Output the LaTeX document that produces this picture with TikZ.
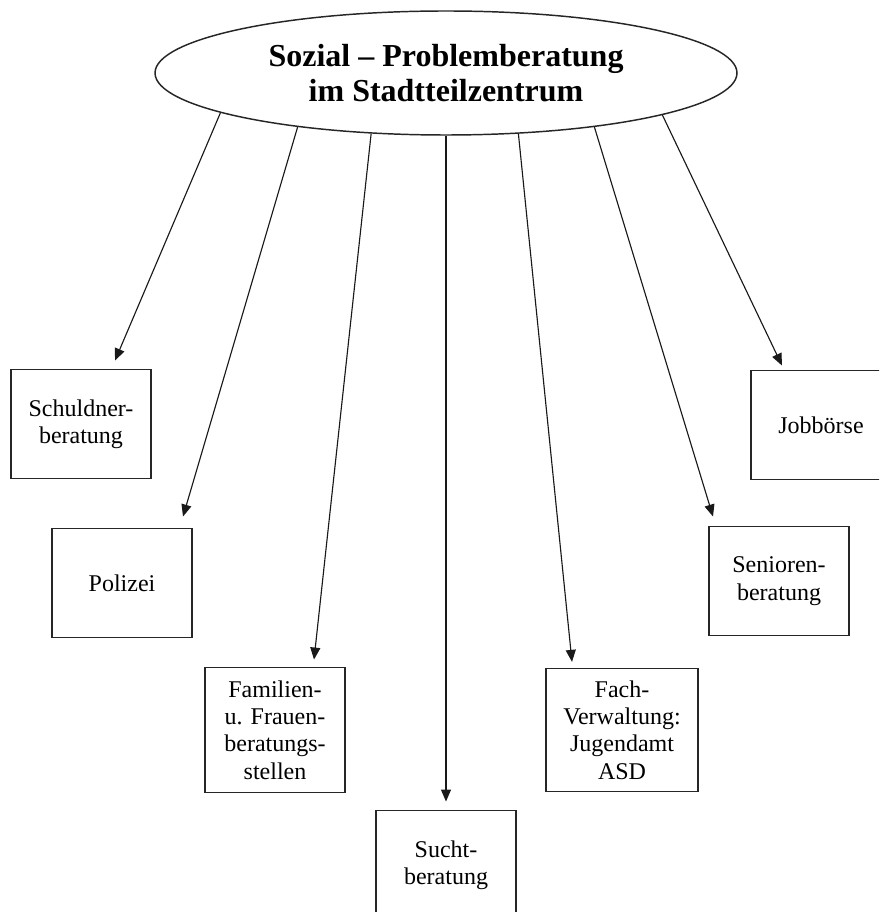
\documentclass[tikz,border=0pt]{standalone}
\usepackage{fontspec}
\setmainfont{Liberation Serif}
\usetikzlibrary{arrows.meta, shapes.geometric, calc}

\begin{document}
\begin{tikzpicture}[x=0.75pt,y=-0.75pt,>={Triangle[length=9pt,width=7.5pt]}]
    \tikzstyle{zentrum}=[ellipse,draw=black!85,line width=1.1pt,minimum width=436.5pt,minimum height=93pt,inner sep=0pt,align=center,font=\bfseries\fontsize{24}{26.5}\selectfont]
    \tikzstyle{stelle}=[rectangle,draw=black!85,line width=1.2pt,minimum width=105pt,minimum height=82pt,inner sep=2pt,align=center,font=\fontsize{18}{20.5}\selectfont]
    \tikzstyle{pfeil}=[->,draw=black!90,line width=0.85pt]

    \clip (0,0) rectangle (879,912);

    \node[zentrum] (Z) at (446,73) {Sozial -- Problemberatung\\im Stadtteilzentrum};

    \node[stelle] (B-1) at (81,424) {Schuldner-\\beratung};
    \node[stelle] (B-2) at (122,583) {Polizei};
    \node[stelle, minimum height=94pt] (B-3) at (275,730) {Familien-\\u. Frauen-\\beratungs-\\stellen};
    \node[stelle] (B-4) at (446,865) {Sucht-\\beratung};
    \node[stelle, minimum width=114pt, minimum height=92pt] (B-5) at (622,730) {Fach-\\Verwaltung:\\Jugendamt\\ASD};
    \node[stelle] (B-6) at (779,581) {Senioren-\\beratung};
    \node[stelle] (B-7) at (821,425) {Jobbörse};

    % Pfeile vom Zentrum zu den Stellen
    \draw[pfeil] (Z.190.5) -- ($(B-1.north)+(34,-8)$);
    \draw[pfeil] (Z.200.2) -- ($(B-2.north)+(61,-11)$);
    \draw[pfeil] (Z.219.4) -- ($(B-3.north)+(39,-7)$);
    \draw[pfeil] (Z.south) -- ($(B-4.north)+(0,-8)$);
    \draw[pfeil] (Z.320.2) -- ($(B-5.north)+(-50,-6)$);
    \draw[pfeil] (Z.340.3) -- ($(B-6.north)+(-66,-9)$);
    \draw[pfeil] (Z.349.5) -- ($(B-7.north)+(-39,-4)$);
\end{tikzpicture}
\end{document}
